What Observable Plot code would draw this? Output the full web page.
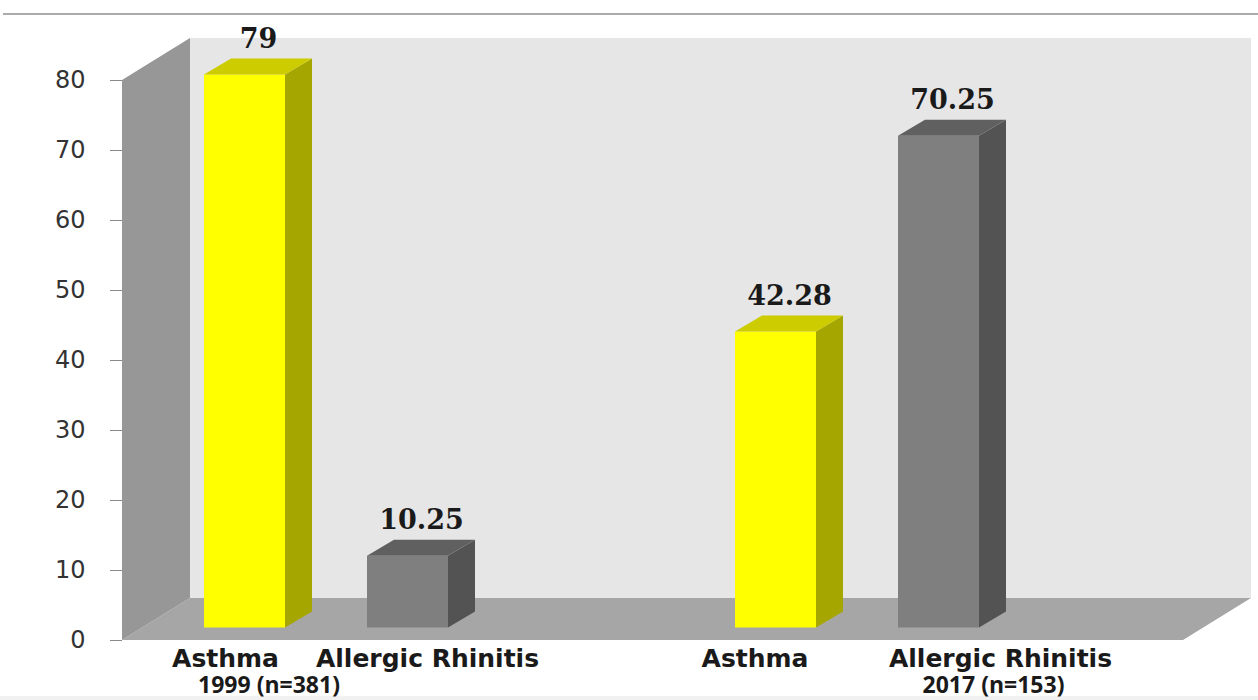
<!DOCTYPE html>
<html>
<head>
<meta charset="utf-8">
<script src="https://cdn.jsdelivr.net/npm/d3@7"></script>
<script src="https://cdn.jsdelivr.net/npm/@observablehq/plot@0.6"></script>
<style>
  html, body { margin: 0; padding: 0; background: #fff; }
  #chart { position: relative; width: 1258px; height: 700px; overflow: hidden; }
  #chart svg { position: absolute; left: 0; top: 0; }
  #topRule { position: absolute; left: 3px; right: 0; top: 13px; height: 2px; background: #ababab; }
  #footStrip { position: absolute; left: 0; right: 0; bottom: 0; height: 4px; background: #f1f1f1; }
</style>
</head>
<body>
<div id="chart"><div id="topRule"></div><div id="footStrip"></div></div>
<script>
// Survey groups, conditions and prevalence (%)
const years = ["1999 (n=381)", "2017 (n=153)"];
const diseases = ["Asthma", "Allergic Rhinitis"];
const asthma = [79, 42.28];
const rhinitis = [10.25, 70.25];
const yTicks = [0, 10, 20, 30, 40, 50, 60, 70, 80];

const rows = years.flatMap((year, i) => [
  {year, disease: diseases[0], value: asthma[i]},
  {year, disease: diseases[1], value: rhinitis[i]}
]);

// Layout: the plot frame is the front edge of the 3-D floor
const W = 1258, H = 700;
const M = {top: 80, right: 75, bottom: 60, left: 122};
const frameW = W - M.left - M.right;

const BAR = 81, PITCH = 163, GROUP = BAR + PITCH;   // bar width, bar spacing, group width
const STEP = 531;                                     // spacing of the two survey groups
const GROUP_START = 62;                               // first group offset from the frame edge
const DEPTH_X = 27, DEPTH_Y = 16;                     // depth of each bar
const FLOOR_X = 68, FLOOR_Y = 42;                     // depth of floor and side wall
const BAR_X = 20, BAR_Y = -12.5;                      // bars stand a little behind the front edge

const n = years.length;
const paddingInner = 1 - GROUP / STEP;
const paddingOuter = (frameW / STEP - n + paddingInner) / 2;
const align = GROUP_START / (frameW - STEP * (n - paddingInner));

const faces = {
  "Asthma": {front: "#ffff00", top: "#cccc00", side: "#a6a600"},
  "Allergic Rhinitis": {front: "#7f7f7f", top: "#606060", side: "#535353"}
};

// horizontal nudges of the category captions from the group centre
const captionDx = {
  "Asthma|1999 (n=381)": -81, "Allergic Rhinitis|1999 (n=381)": 121,
  "Asthma|2017 (n=153)": -82.5, "Allergic Rhinitis|2017 (n=153)": 163
};
const yearDx = {"1999 (n=381)": -37.5, "2017 (n=153)": 156};

const marks = [
  // back wall, floor and left wall of the 3-D box
  Plot.barY([0], {y1: 0, y2: 80, fill: "#e6e6e6", dx: FLOOR_X, dy: -FLOOR_Y, ariaDescription: "back-wall"}),
  Plot.barY([0], {y1: 0, y2: 0, insetTop: -FLOOR_Y, fill: "#a6a6a6", ariaDescription: "floor"}),
  Plot.barY([0], {y1: 0, y2: 80, insetRight: frameW - FLOOR_X, fill: "#979797", ariaDescription: "side-wall"}),
  Plot.axisY({
    ticks: yTicks, tickSize: 12, tickPadding: 25, label: null,
    fontSize: 24, fontFamily: "DejaVu Sans", stroke: "#8a8a8a", fill: "#333333"
  })
];

diseases.forEach((disease, i) => {
  const data = rows.filter(d => d.disease === disease);
  const c = faces[disease];
  const insetLeft = i * PITCH, insetRight = GROUP - BAR - i * PITCH;
  marks.push(
    Plot.barY(data, {x: "year", y1: 0, y2: "value", insetLeft, insetRight,
      dx: BAR_X, dy: BAR_Y, fill: c.front, ariaDescription: "bar-front"}),
    Plot.barY(data, {x: "year", y1: 0, y2: "value", insetLeft: insetLeft + BAR - DEPTH_X, insetRight,
      dx: BAR_X + DEPTH_X, dy: BAR_Y, fill: c.side, ariaDescription: "bar-side"}),
    Plot.barY(data, {x: "year", y1: "value", y2: "value", insetLeft, insetRight, insetTop: -DEPTH_Y,
      dx: BAR_X, dy: BAR_Y, fill: c.top, ariaDescription: "bar-top"}),
    Plot.text(data, {x: "year", y: "value", text: d => String(d.value),
      dx: BAR_X + insetLeft + (BAR + DEPTH_X) / 2 - GROUP / 2, dy: BAR_Y - DEPTH_Y - 11.5,
      lineAnchor: "bottom", fontFamily: "DejaVu Serif", fontWeight: "bold", fontSize: 27, fill: "#1a1a1a"})
  );
});

rows.forEach(d => {
  marks.push(Plot.text([d], {x: "year", frameAnchor: "bottom", text: "disease",
    dx: captionDx[d.disease + "|" + d.year], dy: 26, lineAnchor: "bottom",
    fontFamily: "DejaVu Sans", fontWeight: "bold", fontSize: 25, fill: "#1a1a1a"}));
});
years.forEach(y => {
  marks.push(Plot.text([y], {x: d => d, frameAnchor: "bottom", text: d => d,
    dx: yearDx[y], dy: 52, lineAnchor: "bottom",
    fontFamily: "Open Sans", fontWeight: "bold", fontSize: 23, fill: "#1a1a1a"}));
});

const svg = Plot.plot({
  width: W, height: H,
  marginTop: M.top, marginRight: M.right, marginBottom: M.bottom, marginLeft: M.left,
  x: {domain: years, paddingInner, paddingOuter, align, round: false, axis: null},
  y: {domain: [0, 80]},
  style: {background: "transparent", overflow: "visible"},
  marks
});

// Turn flat rectangles into the slanted faces of the 3-D view
function slant(name, dir, shift) {
  d3.select(svg).selectAll(`g[aria-description="${name}"] rect`).each(function () {
    const r = d3.select(this);
    const x = +r.attr("x"), y = +r.attr("y"), w = +r.attr("width"), h = +r.attr("height");
    if (dir === "up") {
      const a = Math.atan2(-shift, w) * 180 / Math.PI;
      r.attr("transform", `translate(${x},0) skewY(${a}) translate(${-x},0)`);
    } else {
      const b = y + h;
      const a = Math.atan2(-shift, h) * 180 / Math.PI;
      r.attr("transform", `translate(0,${b}) skewX(${a}) translate(0,${-b})`);
    }
  });
}
slant("floor", "right", FLOOR_X);
slant("side-wall", "up", FLOOR_Y);
slant("bar-side", "up", DEPTH_Y);
slant("bar-top", "right", DEPTH_X);

document.getElementById("chart").appendChild(svg);
</script>
</body>
</html>
